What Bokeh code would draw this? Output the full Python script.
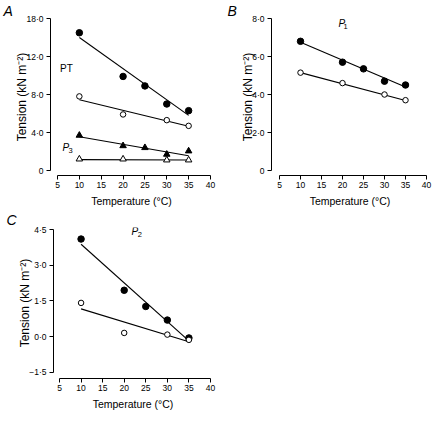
from bokeh.plotting import figure
from bokeh.models import Range1d, Label, FixedTicker
from bokeh.layouts import column, row
from bokeh.embed import file_html
from bokeh.resources import INLINE

# ---------------- data ----------------
x_ticks = [5, 10, 15, 20, 25, 30, 35, 40]
fit_temp = [10, 35]
temp_all = [10, 20, 25, 30, 35]
temp_open = [10, 20, 30, 35]

# Panel A : PT (circles) and P3 (triangles)
a_pt_closed = [14.5, 9.9, 8.9, 7.0, 6.3]
a_pt_open = [7.8, 5.9, 5.3, 4.7]
a_p3_closed = [3.7, 2.6, 2.4, 1.7, 2.05]
a_p3_open = [1.2, 1.2, 1.1, 1.1]
a_fit_pt_closed = [14.0, 5.8]
a_fit_pt_open = [7.45, 4.65]
a_fit_p3_closed = [3.55, 1.55]
a_fit_p3_open = [1.15, 1.1]
a_yticks = [0, 4, 8, 12, 16]
a_ylabels = ["0", "4·0", "8·0", "12·0", "18·0"]

# Panel B : P1
b_closed = [6.8, 5.7, 5.35, 4.7, 4.5]
b_open = [5.15, 4.6, 4.0, 3.7]
b_fit_closed = [6.75, 4.4]
b_fit_open = [5.15, 3.68]
b_yticks = [0, 2, 4, 6, 8]
b_ylabels = ["0", "2·0", "4·0", "6·0", "8·0"]

# Panel C : P2
c_closed = [4.1, 1.95, 1.27, 0.7, -0.05]
c_open = [1.42, 0.16, 0.09, -0.13]
c_fit_closed = [3.88, -0.17]
c_fit_open = [1.17, -0.21]
c_yticks = [-1.5, 0, 1.5, 3, 4.5]
c_ylabels = ["−1·5", "0·0", "1·5", "3·0", "4·5"]

FONT = "Liberation Sans"


def make_panel(fw, fh, borders, xr, yr, yticks, ylabels, letter, letter_offset):
    l, r, t, b = borders
    p = figure(frame_width=fw, frame_height=fh, x_range=Range1d(*xr), y_range=Range1d(*yr),
               output_backend="svg", toolbar_location=None,
               min_border_left=l, min_border_right=r, min_border_top=t, min_border_bottom=b)
    p.outline_line_color = None
    p.grid.visible = False
    p.background_fill_color = "white"
    p.border_fill_color = "white"
    # panel letter as the figure title
    p.title.text = letter
    p.title.align = "left"
    p.title.offset = letter_offset
    p.title.standoff = 0
    p.title.text_font = FONT
    p.title.text_font_size = "14px"
    p.title.text_font_style = "italic"
    p.title.text_color = "black"
    xa = p.xaxis[0]
    ya = p.yaxis[0]
    xa.ticker = FixedTicker(ticks=x_ticks)
    xa.bounds = (x_ticks[0], x_ticks[-1])
    ya.ticker = FixedTicker(ticks=yticks)
    ya.major_label_overrides = dict(zip(yticks, ylabels))
    ya.bounds = (yticks[0], yticks[-1])
    for ax in (xa, ya):
        ax.major_tick_in = 0
        ax.major_tick_out = 4
        ax.minor_tick_line_color = None
        ax.axis_line_color = "black"
        ax.major_tick_line_color = "black"
        ax.major_label_text_font = FONT
        ax.major_label_text_font_size = "8.5px"
        ax.major_label_text_color = "black"
        ax.axis_label_text_font = FONT
        ax.axis_label_text_font_style = "normal"
        ax.axis_label_text_color = "black"
    xa.major_label_standoff = 2
    ya.major_label_standoff = 3
    xa.axis_label = "Temperature (°C)"
    xa.axis_label_text_font_size = "10.5px"
    xa.axis_label_standoff = 4
    ya.axis_label = "Tension (kN m⁻²)"
    ya.axis_label_text_font_size = "12px"
    ya.axis_label_standoff = -6
    return p


def series(p, xs, ys, fit, kind):
    p.line(fit_temp, fit, line_color="black", line_width=1.1)
    if kind == "closed_circle":
        p.scatter(xs, ys, marker="circle", size=6.5, fill_color="black", line_color="black")
    elif kind == "open_circle":
        p.scatter(xs, ys, marker="circle", size=5.5, fill_color="white", line_color="black")
    elif kind == "closed_tri":
        p.scatter(xs, ys, marker="triangle", size=6.5, fill_color="black", line_color="black")
    else:
        p.scatter(xs, ys, marker="triangle", size=6.5, fill_color="white", line_color="black")


def label(p, x, y, text, size="10px", style="normal"):
    p.add_layout(Label(x=x, y=y, text=text, text_font=FONT, text_font_size=size,
                       text_font_style=style, text_align="center", text_baseline="middle",
                       text_color="black"))


# ---------------- panel A ----------------
pA = make_panel(162, 157, (50, 14, 16, 33), (3.398, 40.46), (-0.526, 16), a_yticks, a_ylabels, "A", -47)
series(pA, temp_all, a_pt_closed, a_fit_pt_closed, "closed_circle")
series(pA, temp_open, a_pt_open, a_fit_pt_open, "open_circle")
series(pA, temp_all, a_p3_closed, a_fit_p3_closed, "closed_tri")
series(pA, temp_open, a_p3_open, a_fit_p3_open, "open_tri")
label(pA, 7.06, 10.74, "PT")
label(pA, 6.9, 2.42, "P", style="italic")
label(pA, 7.97, 2.07, "3", size="7.5px")

# ---------------- panel B ----------------
pB = make_panel(157, 157, (45, 4, 16, 33), (3.095, 40.476), (-0.263, 8), b_yticks, b_ylabels, "B", -44)
series(pB, temp_all, b_closed, b_fit_closed, "closed_circle")
series(pB, temp_open, b_open, b_fit_open, "open_circle")
label(pB, 19.83, 7.72, "P", style="italic")
label(pB, 20.75, 7.57, "1", size="7.5px")

# ---------------- panel C ----------------
pC = make_panel(159, 151, (53, 14, 16, 33), (3.609, 40.47), (-1.752, 4.584), c_yticks, c_ylabels, "C", -47)
series(pC, temp_all, c_closed, c_fit_closed, "closed_circle")
series(pC, temp_open, c_open, c_fit_open, "open_circle")
label(pC, 22.45, 4.4, "P", style="italic")
label(pC, 23.6, 4.28, "2", size="7.5px")

layout = column(row(pA, pB), pC)
open("out.html", "w").write(file_html(layout, INLINE))
